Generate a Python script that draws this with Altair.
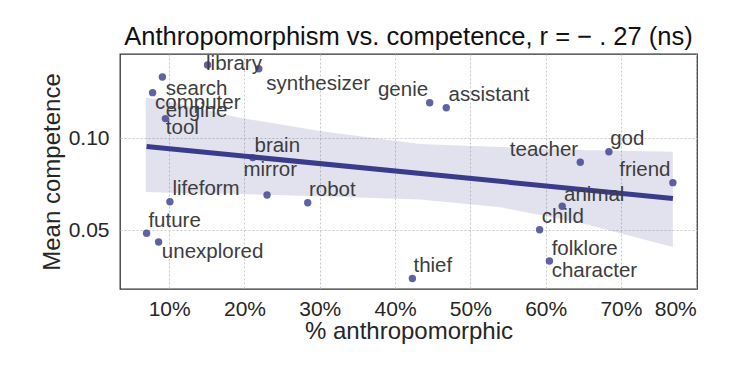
import altair as alt
import pandas as pd

# ---- data ----
words = ["library", "synthesizer", "search\nengine", "computer", "tool", "brain", "mirror",
         "lifeform", "robot", "future", "unexplored", "thief", "genie", "assistant",
         "teacher", "god", "friend", "animal", "child", "folklore\ncharacter"]
pct_anthro = [0.151, 0.219, 0.091, 0.078, 0.095, 0.211, 0.230,
              0.101, 0.284, 0.070, 0.086, 0.423, 0.446, 0.468,
              0.646, 0.684, 0.769, 0.622, 0.592, 0.605]
mean_comp = [0.1398, 0.1378, 0.1333, 0.1248, 0.1107, 0.0895, 0.0692,
             0.0655, 0.0650, 0.0484, 0.0436, 0.0238, 0.1193, 0.1166,
             0.0870, 0.0927, 0.0759, 0.0631, 0.0503, 0.0333]
# label anchor positions (data units, first line), as placed in the reference
label_x = [0.149, 0.229, 0.0956, 0.0813, 0.0956, 0.2133, 0.1987,
           0.1044, 0.2857, 0.0724, 0.0903, 0.4244, 0.3773, 0.4711,
           0.5524, 0.6857, 0.6977, 0.6244, 0.5947, 0.6080]
label_y = [0.1402, 0.1293, 0.1268, 0.1193, 0.1054, 0.0958, 0.0828,
           0.0724, 0.0719, 0.0551, 0.0382, 0.0306, 0.1263, 0.1234,
           0.0936, 0.0996, 0.0828, 0.0692, 0.0574, 0.0398]

# confidence band edges
band_x = [0.0689, 0.1133, 0.1933, 0.30, 0.4333, 0.54, 0.6467, 0.7689]
band_hi = [0.1221, 0.1187, 0.1112, 0.1040, 0.0969, 0.0953, 0.0936, 0.0927]
band_lo = [0.0708, 0.0703, 0.0697, 0.0685, 0.0668, 0.0625, 0.0540, 0.0409]

x_ticks = [0.1, 0.2, 0.3, 0.4, 0.5, 0.6, 0.7, 0.8]
y_ticks = [0.05, 0.10]

pts = pd.DataFrame({"word": words, "x": pct_anthro, "y": mean_comp,
                    "lx": label_x, "ly": label_y})
band_df = pd.DataFrame({"x": band_x, "hi": band_hi, "lo": band_lo})

FONT = "Liberation Sans"
BASE = "#3b3b8c"

xscale = alt.Scale(domain=[0.0347, 0.801], nice=False, zero=False)
yscale = alt.Scale(domain=[0.0181, 0.1458], nice=False, zero=False)

xax = alt.Axis(values=x_ticks, format=".0%", title="% anthropomorphic",
               labelPadding=9, titlePadding=0)
yax = alt.Axis(values=y_ticks, format=".2f", title="Mean competence",
               labelPadding=11, titlePadding=4)

band = alt.Chart(band_df).mark_area(color=BASE, opacity=0.15).encode(
    x=alt.X("x:Q", scale=xscale, axis=xax),
    y=alt.Y("lo:Q", scale=yscale, axis=yax),
    y2="hi:Q",
)

line = alt.Chart(pts).transform_regression("x", "y").mark_line(
    color=BASE, strokeWidth=5
).encode(
    x=alt.X("x:Q", scale=xscale),
    y=alt.Y("y:Q", scale=yscale),
)

points = alt.Chart(pts).mark_circle(size=55, color=BASE, opacity=0.8).encode(
    x=alt.X("x:Q", scale=xscale),
    y=alt.Y("y:Q", scale=yscale),
)

labels = alt.Chart(pts).mark_text(
    align="left", baseline="middle", fontSize=20.5, font=FONT,
    color="#3d3d3d", lineBreak="\n", lineHeight=22
).encode(
    x=alt.X("lx:Q", scale=xscale),
    y=alt.Y("ly:Q", scale=yscale),
    text="word:N",
)

chart = alt.layer(band, line, points, labels).properties(
    width=577, height=235,
    title=alt.TitleParams("Anthropomorphism vs. competence, r = − . 27 (ns)",
                          fontSize=25.5, font=FONT, fontWeight="normal",
                          color="#111111", anchor="middle", offset=4),
    padding={"left": 32, "top": 16, "right": 5, "bottom": 5},
).configure_axis(
    grid=True, gridColor="#c8c8c8", gridDash=[2, 2], gridWidth=1,
    domain=False, ticks=False,
    labelFont=FONT, titleFont=FONT, labelFontSize=21, titleFontSize=24,
    labelColor="#262626", titleColor="#262626", titleFontWeight="normal",
).configure_view(
    stroke="#333333", strokeWidth=1.3
)

chart.save("out.html", embed_options={"renderer": "svg", "actions": False})
